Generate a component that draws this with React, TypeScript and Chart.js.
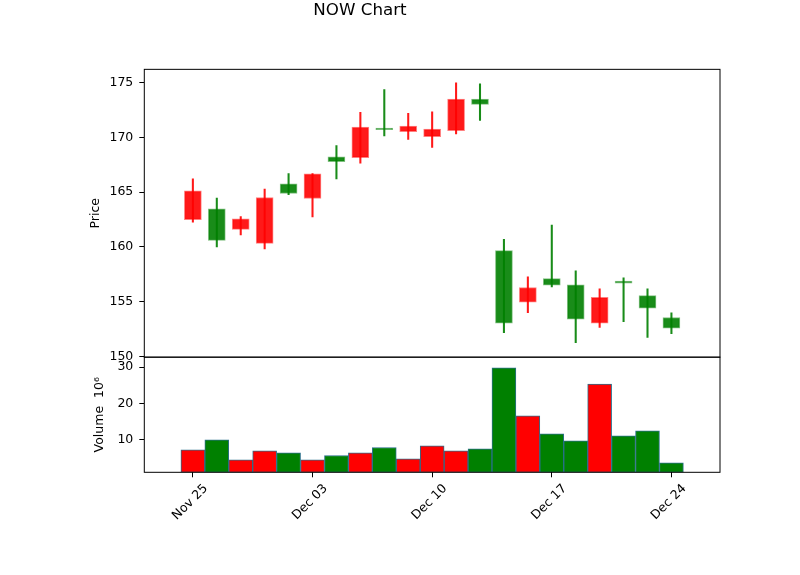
import { useEffect, useRef } from "react";
import { Chart, registerables, type Plugin } from "chart.js";

Chart.register(...registerables);

// Trading days shown on the chart (Thanksgiving closed)
const DATES = [
  "Nov 25", "Nov 26", "Nov 27", "Nov 29", "Dec 02", "Dec 03", "Dec 04",
  "Dec 05", "Dec 06", "Dec 09", "Dec 10", "Dec 11", "Dec 12", "Dec 13",
  "Dec 16", "Dec 17", "Dec 18", "Dec 19", "Dec 20", "Dec 23", "Dec 24",
];
const OPEN  = [165.12, 160.60, 162.57, 164.51, 164.88, 166.66, 167.78, 170.94, 170.70, 171.03, 170.75, 173.48, 173.00, 153.05, 156.30, 156.51, 153.42, 155.40, 156.69, 154.42, 152.60];
const HIGH  = [166.21, 164.45, 162.78, 165.27, 166.69, 166.70, 169.24, 172.27, 174.36, 172.18, 172.33, 174.97, 174.87, 160.69, 157.27, 162.00, 157.82, 156.18, 157.18, 156.18, 154.00];
const LOW   = [162.27, 160.00, 161.09, 159.82, 164.78, 162.75, 166.21, 167.64, 170.12, 169.82, 169.09, 170.30, 171.55, 152.18, 154.00, 156.36, 151.27, 152.66, 153.18, 151.75, 152.09];
const CLOSE = [162.48, 163.48, 161.60, 160.33, 165.75, 164.42, 168.21, 168.15, 170.85, 170.51, 170.06, 170.60, 173.48, 159.66, 154.96, 157.12, 156.55, 153.05, 156.90, 155.57, 153.57];
// volume in millions of shares
const VOLUME = [7.25, 10.0, 4.49, 6.97, 6.42, 4.49, 5.67, 6.42, 7.88, 4.77, 8.35, 6.97, 7.52, 29.83, 16.61, 11.65, 9.72, 25.32, 11.1, 12.48, 3.66];

const X_TICKS = [0, 5, 10, 15, 20];
const PRICE_TICKS = [150, 155, 160, 165, 170, 175];
const VOLUME_TICKS = [10, 20, 30];

const X_MIN = -2.03;
const X_MAX = 22.03;
const PRICE_MIN = 149.95;
const PRICE_MAX = 176.2;
const VOL_MIN = 1.05;
const VOL_MAX = 32.75;

const FONT = "DejaVu Sans";
const isUp = (i: number) => CLOSE[i] >= OPEN[i];

export default function App() {
  const canvasRef = useRef<HTMLCanvasElement>(null);
  const chartRef = useRef<Chart | null>(null);

  useEffect(() => {
    if (!canvasRef.current) return;
    if (chartRef.current) chartRef.current.destroy();
    const ctx = canvasRef.current.getContext("2d");
    if (!ctx) return;

    // box around each panel, like matplotlib spines
    const panelFrames: Plugin<"bar"> = {
      id: "panelFrames",
      afterDraw(chart) {
        const { ctx, chartArea, scales } = chart;
        ctx.save();
        ctx.strokeStyle = "#000";
        ctx.lineWidth = 1;
        for (const id of ["y", "yv"]) {
          const s = scales[id];
          ctx.strokeRect(chartArea.left, s.top, chartArea.right - chartArea.left, s.bottom - s.top);
        }
        ctx.restore();
      },
    };

    const idx = DATES.map((_, i) => i);
    const tickFont = { family: FONT, size: 12.5 };

    chartRef.current = new Chart(ctx, {
      type: "bar",
      data: {
        datasets: [
          {
            label: "wick",
            data: idx.map(i => ({ x: i, y: [LOW[i], HIGH[i]] })) as any,
            yAxisID: "y",
            backgroundColor: idx.map(i => (isUp(i) ? "rgba(0,128,0,0.9)" : "rgba(255,0,0,0.9)")),
            barThickness: 1.4,
            grouped: false,
            order: 2,
          },
          {
            label: "body",
            data: idx.map(i => ({ x: i, y: [OPEN[i], CLOSE[i]] })) as any,
            yAxisID: "y",
            backgroundColor: idx.map(i => (isUp(i) ? "rgba(0,128,0,0.9)" : "rgba(255,0,0,0.9)")),
            borderColor: idx.map(i => (isUp(i) ? "rgba(0,128,0,0.5)" : "rgba(255,0,0,0.5)")),
            borderWidth: 1,
            borderSkipped: false,
            barThickness: 17,
            grouped: false,
            order: 1,
          },
          {
            label: "Volume",
            data: idx.map(i => ({ x: i, y: VOLUME[i] })) as any,
            yAxisID: "yv",
            base: VOL_MIN,
            backgroundColor: idx.map(i => (isUp(i) ? "#008000" : "#ff0000")),
            borderColor: "#2a6f8a",
            borderWidth: 1,
            borderSkipped: false,
            barPercentage: 1,
            categoryPercentage: 1,
            grouped: false,
            order: 3,
          },
        ],
      },
      options: {
        responsive: true,
        maintainAspectRatio: false,
        animation: false,
        layout: { padding: { left: 0, right: 80, top: 0, bottom: 0 } },
        scales: {
          x: {
            type: "linear",
            min: X_MIN,
            max: X_MAX,
            offset: false,
            afterBuildTicks: s => { s.ticks = X_TICKS.map(v => ({ value: v })); },
            afterFit: s => { s.height = 102.7; },
            ticks: {
              callback: v => DATES[Number(v)],
              autoSkip: false,
              minRotation: 45,
              maxRotation: 45,
              labelOffset: 13,
              padding: 4,
              color: "#000",
              font: tickFont,
            },
            grid: { offset: false, drawOnChartArea: false, tickLength: 5, tickColor: "#000" },
            border: { display: false },
          },
          yv: {
            type: "linear",
            position: "left",
            stack: "panels",
            stackWeight: 2,
            min: VOL_MIN,
            max: VOL_MAX,
            afterBuildTicks: s => { s.ticks = VOLUME_TICKS.map(v => ({ value: v })); },
            afterFit: s => { s.width = 144.3; },
            ticks: { color: "#000", font: tickFont, padding: 6 },
            grid: { drawOnChartArea: false, tickLength: 5, tickColor: "#000" },
            border: { display: false },
            title: {
              display: true,
              text: "Volume  10⁶",
              color: "#000",
              font: tickFont,
              padding: { top: 92, bottom: 0 },
            },
          },
          y: {
            type: "linear",
            position: "left",
            stack: "panels",
            stackWeight: 5,
            min: PRICE_MIN,
            max: PRICE_MAX,
            afterBuildTicks: s => { s.ticks = PRICE_TICKS.map(v => ({ value: v })); },
            afterFit: s => { s.width = 144.3; },
            ticks: { color: "#000", font: tickFont, padding: 6 },
            grid: { drawOnChartArea: false, tickLength: 5, tickColor: "#000" },
            border: { display: false },
            title: {
              display: true,
              text: "Price",
              color: "#000",
              font: tickFont,
              padding: { top: 88, bottom: 0 },
            },
          },
        },
        plugins: {
          legend: { display: false },
          tooltip: { enabled: false },
          title: {
            display: true,
            text: "NOW Chart",
            color: "#000",
            font: { family: FONT, size: 16.7, weight: "normal" },
            padding: { top: 1, bottom: 48.3 },
          },
        },
      },
      plugins: [panelFrames],
    });

    return () => {
      chartRef.current?.destroy();
      chartRef.current = null;
    };
  }, []);

  return (
    <div style={{ position: "absolute", left: 0, top: 0, width: 800, height: 575, background: "#fff" }}>
      <canvas ref={canvasRef} />
    </div>
  );
}
